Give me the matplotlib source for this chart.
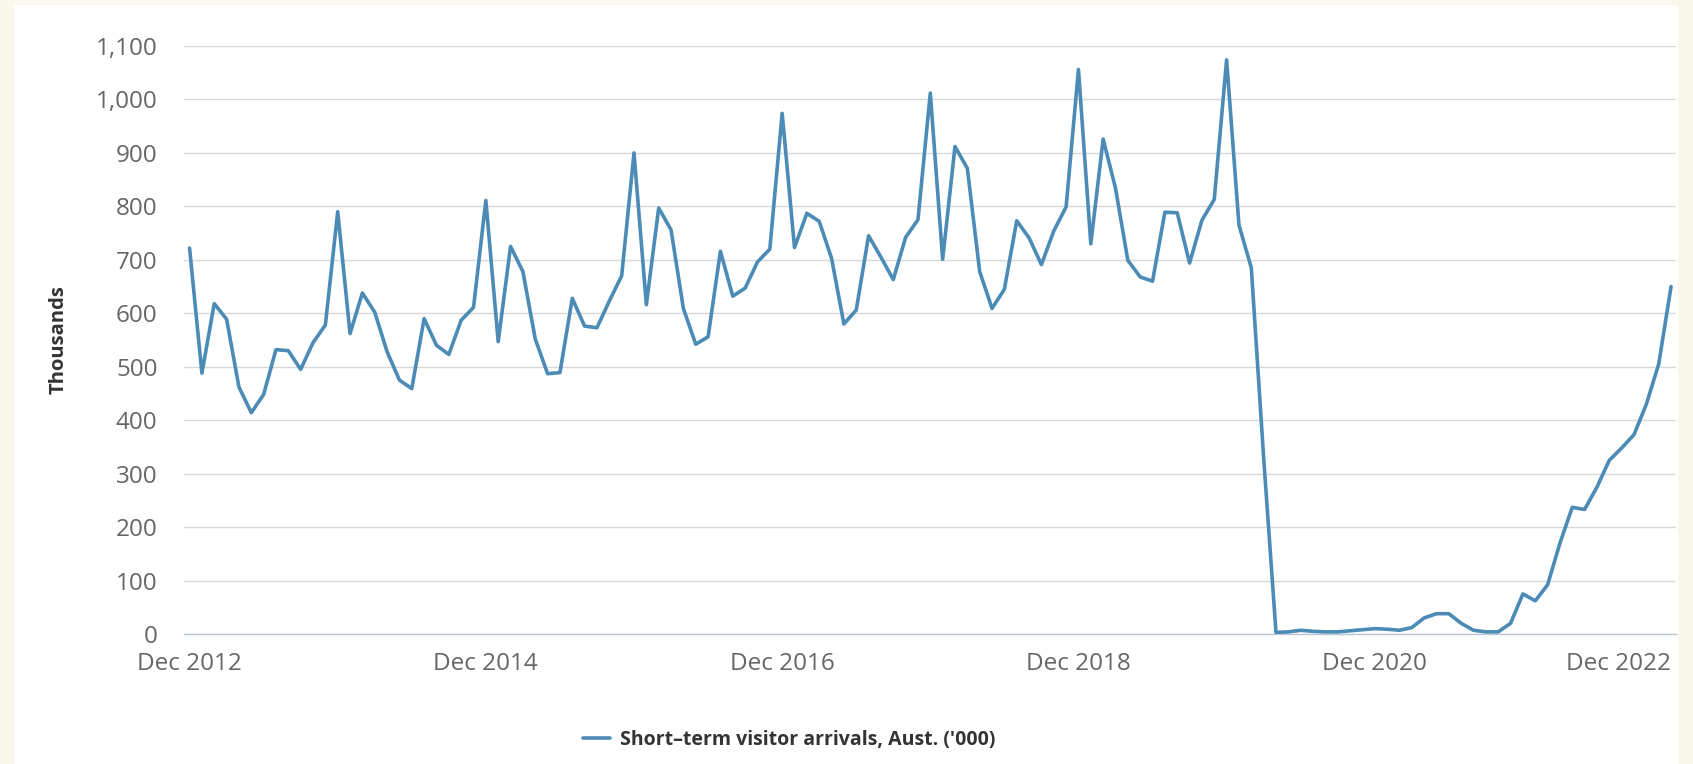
import matplotlib
matplotlib.use('Agg')
import matplotlib.pyplot as plt
from matplotlib.patches import Rectangle
from matplotlib.ticker import StrMethodFormatter
import numpy as np

# short-term visitor arrivals ('000), monthly Dec 2012 - Dec 2022
arrivals = [
    722, 488, 618, 589, 462, 414, 448, 532, 530, 495, 545, 578,
    790, 562, 638, 602, 528, 475, 459, 590, 540, 523, 587, 611,
    811, 547, 725, 678, 552, 487, 489, 628, 576, 573, 623, 670,
    900, 616, 797, 756, 609, 542, 556, 716, 632, 647, 696, 720,
    974, 723, 787, 772, 703, 580, 606, 745, 705, 663, 742, 775,
    1012, 701, 912, 871, 678, 609, 645, 773, 741, 691, 754, 799,
    1056, 730, 926, 834, 699, 668, 660, 789, 788, 694, 774, 813,
    1074, 765, 685, 330, 3, 4, 7, 5, 4, 4, 6, 8,
    10, 9, 7, 12, 30, 38, 38, 20, 7, 4, 4, 20,
    75, 62, 92, 170, 237, 233, 275, 325, 348, 373, 430, 505, 650,
]
tick_months = [0, 24, 48, 72, 96, 120]
tick_labels = ['Dec 2012', 'Dec 2014', 'Dec 2016', 'Dec 2018', 'Dec 2020', 'Dec 2022']
y_ticks = list(range(0, 1101, 100))
series_name = "Short–term visitor arrivals, Aust. ('000)"

plt.rcParams['font.family'] = ['Open Sans', 'DejaVu Sans']

W, H = 1693, 764
fig = plt.figure(figsize=(W / 100, H / 100), dpi=100, facecolor='#FAF7EB')
# white card on the cream page (kept behind the axes)
fig.patches.append(Rectangle((14 / W, 0), (1678 - 14) / W, 1 - 5 / H,
                             transform=fig.transFigure, facecolor='white',
                             edgecolor='none', zorder=-10))

ax = fig.add_axes([184 / W, 1 - 634 / H, (1676 - 184) / W, (634 - 46) / H])
ax.set_facecolor('white')

x = np.arange(len(arrivals))
line, = ax.plot(x, arrivals, color='#4B8BB6', lw=2.6, solid_joinstyle='round',
                solid_capstyle='round', label=series_name, zorder=3)

ax.set_xlim(-0.45, 120.4)
ax.set_ylim(0, 1100)
ax.set_yticks(y_ticks)
ax.yaxis.set_major_formatter(StrMethodFormatter('{x:,.0f}'))
ax.set_xticks(tick_months)
ax.set_xticklabels(tick_labels)
ax.get_xticklabels()[-1].set_ha('right')

ax.yaxis.grid(True, color='#D8D8D8', lw=1)
ax.set_axisbelow(True)
for s in ['top', 'right', 'left']:
    ax.spines[s].set_visible(False)
ax.spines['bottom'].set_color('#BCC8D8')
ax.spines['bottom'].set_linewidth(1)

ax.tick_params(axis='both', length=0, labelsize=17.5, labelcolor='#666666')
ax.tick_params(axis='y', pad=19)
ax.tick_params(axis='x', pad=13)

fig.text(59 / W, 1 - 340 / H, 'Thousands', rotation=90, ha='center', va='center',
         fontsize=14.5, fontweight='bold', color='#333333')

fig.legend(handles=[line], loc='center', bbox_to_anchor=(789 / W, 1 - 740 / H),
           frameon=False, prop={'weight': 'bold', 'size': 14}, labelcolor='#333333',
           handlelength=1.4, handletextpad=0.5)

fig.savefig('out.png', dpi=100, facecolor=fig.get_facecolor())
